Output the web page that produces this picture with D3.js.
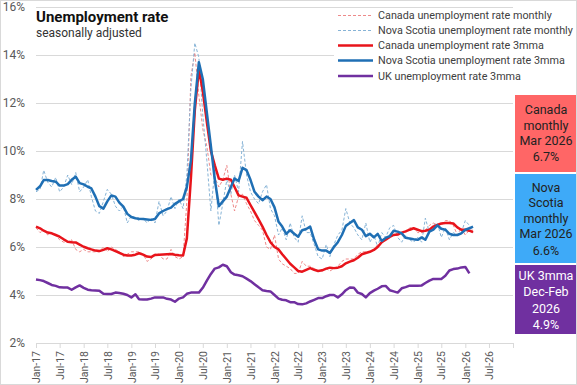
<!DOCTYPE html>
<html>
<head>
<meta charset="utf-8">
<script src="https://cdn.jsdelivr.net/npm/d3@7"></script>
<style>
  html, body { margin: 0; padding: 0; background: #fff; }
  svg { display: block; }
  text { font-family: Roboto, "Liberation Sans", sans-serif; }
</style>
</head>
<body>
<svg id="chart" width="577" height="385"></svg>
<script>
// ---------------- DATA ----------------
const startMonth = "2017-01";
const canadaMonthly = [
  6.8, 6.6, 6.7, 6.5, 6.6, 6.5, 6.3, 6.2, 6.2, 6.3, 5.9, 5.8,
  5.9, 5.8, 5.8, 5.8, 5.8, 6.0, 5.8, 6.0, 5.9, 5.8, 5.6, 5.7,
  5.8, 5.8, 5.8, 5.7, 5.4, 5.5, 5.7, 5.7, 5.5, 5.5, 5.9, 5.6,
  5.5, 5.6, 7.9, 13.1, 14.1, 12.3, 10.9, 10.2, 9.0, 8.9, 8.5, 8.8,
  9.4, 8.2, 7.5, 8.1, 8.2, 7.8, 7.5, 7.1, 6.9, 6.7, 6.0, 5.9,
  6.5, 5.5, 5.3, 5.2, 5.1, 4.9, 4.9, 5.4, 5.2, 5.2, 5.1, 5.0,
  5.0, 5.1, 5.0, 5.1, 5.2, 5.4, 5.5, 5.5, 5.5, 5.7, 5.8, 5.8,
  5.8, 5.9, 6.1, 6.2, 6.3, 6.5, 6.5, 6.6, 6.6, 6.6, 6.8, 6.8,
  6.6, 6.6, 6.7, 6.9, 7.0, 6.9, 6.9, 7.1, 7.1, 6.9, 6.5, 6.8,
  6.5, 6.7, 6.7
];
const novaScotiaMonthly = [
  8.3, 8.4, 9.2, 8.7, 8.5, 8.9, 8.3, 8.5, 9.0, 8.6, 9.1, 8.3,
  8.5, 8.8, 8.1, 7.5, 7.4, 7.9, 8.4, 8.2, 7.7, 7.5, 7.7, 7.0,
  7.3, 7.2, 7.1, 7.2, 7.0, 7.2, 7.0, 7.9, 7.3, 7.5, 8.1, 7.6,
  8.0, 7.6, 9.0, 12.6, 14.5, 13.9, 11.5, 9.6, 7.5, 9.2, 6.9, 7.8,
  8.8, 8.2, 9.0, 8.3, 10.4, 9.0, 8.3, 8.0, 7.8, 8.3, 8.6, 7.6,
  7.3, 6.5, 6.8, 6.3, 7.0, 6.4, 6.2, 7.3, 6.6, 6.6, 6.1, 5.6,
  5.5, 6.1, 5.6, 6.1, 6.5, 6.7, 7.6, 7.0, 6.8, 6.5, 6.3, 7.0,
  6.2, 6.5, 6.0, 6.6, 6.4, 6.8, 6.9, 6.4, 6.2, 6.5, 6.3, 6.2,
  6.4, 6.2, 7.2, 6.6, 6.9, 7.0, 6.4, 6.8, 6.3, 6.6, 6.5, 6.6,
  7.1, 6.9, 6.6
];
const canada3mma = [
  6.85, 6.78, 6.68, 6.60, 6.57, 6.50, 6.43, 6.32, 6.22, 6.20, 6.19, 6.10,
  6.01, 5.95, 5.90, 5.85, 5.83, 5.88, 5.95, 5.90, 5.83, 5.76, 5.68, 5.65,
  5.65, 5.68, 5.74, 5.68, 5.60, 5.58, 5.67, 5.68, 5.69, 5.70, 5.71, 5.68,
  5.66, 5.65, 6.36, 8.87, 11.7, 13.4, 12.5, 11.2, 10.0, 9.4, 8.85, 8.8,
  8.85, 8.8, 8.5, 8.15, 8.1, 8.05, 7.75, 7.45, 7.15, 6.85, 6.5, 6.2,
  6.0, 5.9, 5.7, 5.5, 5.3, 5.15, 5.0, 4.97, 5.05, 5.12, 5.05, 5.0,
  5.03, 5.1, 5.14, 5.12, 5.14, 5.2, 5.32, 5.39, 5.45, 5.55, 5.7, 5.75,
  5.8, 5.88, 6.0, 6.2, 6.3, 6.42, 6.5, 6.52, 6.6, 6.65, 6.72, 6.78,
  6.72, 6.66, 6.68, 6.72, 6.85, 6.92, 6.98, 7.0, 7.0, 6.98, 6.82, 6.72,
  6.72, 6.68, 6.62
];
const novaScotia3mma = [
  8.38, 8.53, 8.79, 8.79, 8.75, 8.72, 8.56, 8.56, 8.62, 8.80, 8.93, 8.66,
  8.61, 8.51, 8.44, 8.10, 7.70, 7.60, 7.90, 8.15, 8.10, 7.85, 7.68, 7.38,
  7.25, 7.20, 7.18, 7.17, 7.15, 7.13, 7.17, 7.40, 7.50, 7.58, 7.64, 7.80,
  7.90, 8.00, 8.50, 9.60, 12.0, 13.7, 13.0, 11.6, 10.2, 8.8, 7.7, 7.9,
  8.1, 8.5, 8.85, 8.75, 9.3, 9.2, 8.8, 8.3, 8.1, 7.95, 8.1, 8.0,
  7.65, 7.05, 6.85, 6.55, 6.7, 6.55, 6.43, 6.7, 6.75, 6.85, 6.3, 5.9,
  5.85, 5.85, 5.75, 6.0, 6.2, 6.5, 6.88, 7.0, 7.12, 6.82, 6.72, 6.45,
  6.55, 6.4, 6.55, 6.25, 6.38, 6.45, 6.68, 6.64, 6.57, 6.38, 6.35, 6.32,
  6.3, 6.4, 6.3, 6.64, 6.72, 6.9, 6.76, 6.72, 6.55, 6.5, 6.5, 6.57,
  6.72, 6.78, 6.85
];
const uk3mma = [
  4.65, 4.62, 4.58, 4.50, 4.42, 4.38, 4.32, 4.31, 4.31, 4.22, 4.32, 4.40,
  4.30, 4.22, 4.20, 4.19, 4.18, 4.05, 4.04, 4.04, 4.10, 4.08, 4.05, 4.00,
  3.90, 4.03, 3.82, 3.81, 3.81, 3.85, 3.90, 3.90, 3.90, 3.84, 3.81, 3.72,
  3.85, 3.90, 4.05, 4.10, 4.10, 4.10, 4.30, 4.60, 4.88, 5.10, 5.15, 5.26,
  5.20, 4.95, 4.85, 4.82, 4.78, 4.68, 4.58, 4.45, 4.32, 4.20, 4.17, 4.15,
  4.00, 3.85, 3.80, 3.78, 3.70, 3.70, 3.62, 3.61, 3.65, 3.73, 3.80, 3.87,
  3.87, 3.95, 4.00, 4.00, 3.90, 4.03, 4.20, 4.31, 4.30, 4.10, 4.04, 3.90,
  4.08, 4.18, 4.26, 4.36, 4.38, 4.20, 4.15, 4.10, 4.28, 4.33, 4.39, 4.39,
  4.39, 4.40, 4.50, 4.60, 4.67, 4.67, 4.67, 4.80, 5.02, 5.08, 5.10, 5.15,
  5.17, 4.9
];
const yTicks = [2, 4, 6, 8, 10, 12, 14, 16];
const xTickLabels = ["Jan-17","Jul-17","Jan-18","Jul-18","Jan-19","Jul-19","Jan-20","Jul-20",
  "Jan-21","Jul-21","Jan-22","Jul-22","Jan-23","Jul-23","Jan-24","Jul-24","Jan-25","Jul-25",
  "Jan-26","Jul-26"];
const xAxisEnd = "Jan-27";
const seriesNames = ["Canada unemployment rate monthly","Nova Scotia unemployment rate monthly",
  "Canada unemployment rate 3mma","Nova Scotia unemployment rate 3mma","UK unemployment rate 3mma"];
const boxes = [
  {lines: ["Canada", "monthly", "Mar 2026", "6.7%"]},
  {lines: ["Nova", "Scotia", "monthly", "Mar 2026", "6.6%"]},
  {lines: ["UK 3mma", "Dec-Feb", "2026", "4.9%"]}
];
const titleText = "Unemployment rate";
const subtitleText = "seasonally adjusted";

// ---------------- CHART ----------------
const svg = d3.select("#chart");
const W = 577, H = 385;
const parseTick = d3.timeParse("%b-%y");
const start = d3.timeParse("%Y-%m")(startMonth);
const monthDate = i => d3.timeMonth.offset(start, i);

const x = d3.scaleTime().domain([parseTick(xTickLabels[0]), parseTick(xAxisEnd)]).range([36, 513]);
const y = d3.scaleLinear().domain([2, 16]).range([343, 7]);

svg.append("rect").attr("x", 0.5).attr("y", 0.5).attr("width", W - 1).attr("height", H - 1)
  .attr("fill", "#fff").attr("stroke", "#d9d9d9");

// gridlines
svg.append("g").selectAll("line").data(yTicks.filter(d => d > 2)).join("line")
  .attr("x1", 36).attr("x2", 513)
  .attr("y1", d => Math.round(y(d)) + 0.5).attr("y2", d => Math.round(y(d)) + 0.5)
  .attr("stroke", "#d9d9d9").attr("stroke-width", 1);

// y labels
svg.append("g").selectAll("text").data(yTicks).join("text")
  .attr("x", 25).attr("y", d => y(d)).attr("dy", "0.35em")
  .attr("text-anchor", "end").attr("font-size", 12).attr("fill", "#595959")
  .text(d => d + "%");

// x axis
const tickDates = xTickLabels.map(parseTick).concat([parseTick(xAxisEnd)]);
const xAxis = d3.axisBottom(x).tickValues(tickDates).tickSize(5)
  .tickFormat((d, i) => xTickLabels[i] || "");
const gx = svg.append("g").attr("transform", "translate(0,343)").call(xAxis);
gx.select(".domain").attr("stroke", "#d9d9d9").attr("d", "M36.5,0.5H513.5");
gx.selectAll(".tick line").attr("stroke", "#d9d9d9");
gx.selectAll(".tick text")
  .attr("font-family", "Roboto, 'Liberation Sans', sans-serif")
  .attr("font-size", 10.5).attr("fill", "#595959")
  .attr("transform", "rotate(-90)")
  .attr("text-anchor", "end")
  .attr("x", -8).attr("y", 0).attr("dy", "0.35em");

// lines
const mk = arr => arr.map((v, i) => ({d: monthDate(i), v}));
const line = d3.line().x(p => x(p.d)).y(p => y(p.v)).curve(d3.curveLinear);

const styles = [
  {data: canadaMonthly, color: "#ee8a8a", w: 1, dash: "3,2"},
  {data: novaScotiaMonthly, color: "#86b3d6", w: 1, dash: "3,2"},
  {data: canada3mma, color: "#e8141b", w: 2.5, dash: null},
  {data: novaScotia3mma, color: "#1f6fb4", w: 2.5, dash: null},
  {data: uk3mma, color: "#7030a0", w: 2.5, dash: null}
];
styles.forEach(s => {
  svg.append("path").datum(mk(s.data)).attr("d", line)
    .attr("fill", "none").attr("stroke", s.color).attr("stroke-width", s.w)
    .attr("stroke-linejoin", "round")
    .attr("stroke-dasharray", s.dash);
});

// title
svg.append("text").attr("x", 36).attr("y", 22).attr("font-size", 15).attr("font-weight", 700)
  .attr("fill", "#111").text(titleText);
svg.append("text").attr("x", 36).attr("y", 37).attr("font-size", 12).attr("fill", "#333")
  .text(subtitleText);

// legend
const lg = svg.append("g");
lg.append("rect").attr("x", 334).attr("y", 8).attr("width", 241).attr("height", 76).attr("fill", "#fff");
const legY = [15.5, 30.5, 45.5, 60.5, 76];
seriesNames.forEach((name, i) => {
  const s = styles[i];
  lg.append("line").attr("x1", 338).attr("x2", 373).attr("y1", legY[i]).attr("y2", legY[i])
    .attr("stroke", s.color).attr("stroke-width", s.w === 1 ? 1 : 2.5)
    .attr("stroke-dasharray", s.dash);
  lg.append("text").attr("x", 378).attr("y", legY[i]).attr("dy", "0.35em")
    .attr("font-size", 10.8).attr("fill", "#404040").text(name);
});

// info boxes
const boxGeom = [
  {y0: 95, y1: 172, fill: "#ff6666", text: "#222", cy: [110, 125.5, 141, 157]},
  {y0: 174, y1: 263, fill: "#3eaaf8", text: "#222", cy: [187.5, 203, 218.5, 234, 251]},
  {y0: 265, y1: 334, fill: "#7030a0", text: "#fff", cy: [275.5, 292, 308.5, 325]}
];
boxes.forEach((b, i) => {
  const g = boxGeom[i];
  svg.append("rect").attr("x", 515).attr("y", g.y0).attr("width", 61).attr("height", g.y1 - g.y0)
    .attr("fill", g.fill);
  b.lines.forEach((t, j) => {
    svg.append("text").attr("x", 546).attr("y", g.cy[j]).attr("dy", "0.35em")
      .attr("text-anchor", "middle").attr("font-size", 12.5).attr("fill", g.text).text(t);
  });
});
</script>
</body>
</html>
